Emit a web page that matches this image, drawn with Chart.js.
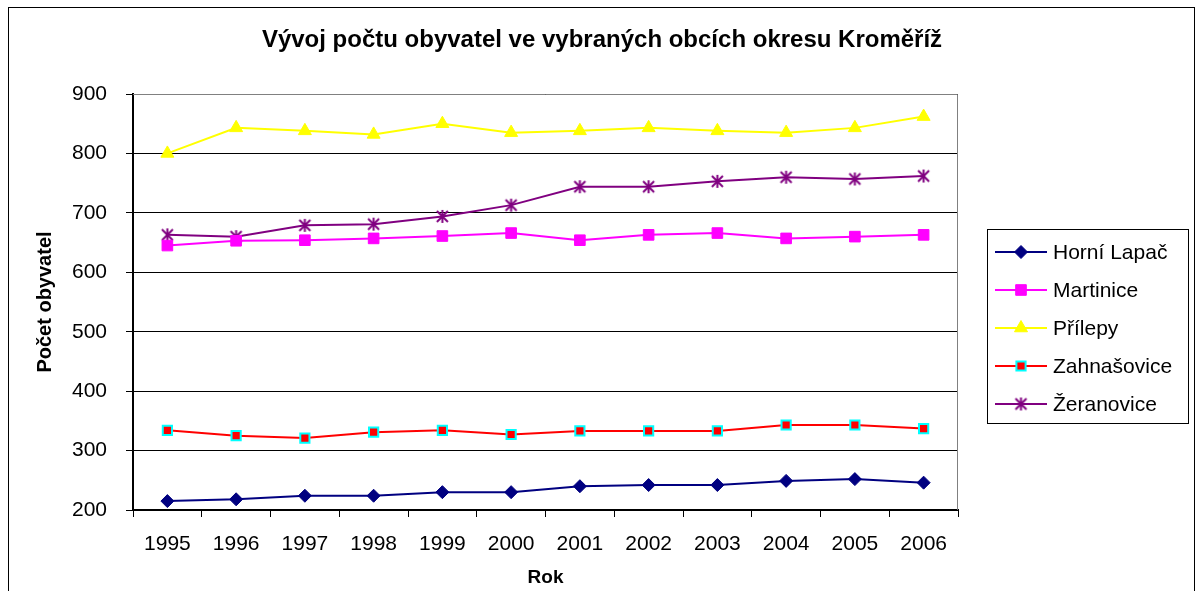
<!DOCTYPE html>
<html>
<head>
<meta charset="utf-8">
<script src="https://cdn.jsdelivr.net/npm/chart.js@4.4.0/dist/chart.umd.min.js"></script>
<style>
  body { margin: 0; background: #fff; }
  #wrap { width: 1197px; height: 591px; }
</style>
</head>
<body>
<div id="wrap"><canvas id="myChart" width="1197" height="591"></canvas></div>
<script>
'use strict';
const chartTitle = 'Vývoj počtu obyvatel ve vybraných obcích okresu Kroměříž';
const years = ['1995', '1996', '1997', '1998', '1999', '2000', '2001', '2002', '2003', '2004', '2005', '2006'];
const horniLapac = [215, 218, 224, 224, 230, 230, 240, 242, 242, 249, 252, 246];
const martinice = [645, 653, 654, 657, 661, 666, 654, 663, 666, 657, 660, 663];
const prilepy = [800, 843, 838, 832, 850, 835, 838, 843, 838, 835, 843, 862];
const zahnasovice = [334, 325, 321, 331, 334, 327, 333, 333, 333, 343, 343, 337];
const zeranovice = [663, 660, 679, 681, 694, 713, 744, 744, 753, 760, 757, 762];
const yMin = 200;
const yMax = 900;
const yStep = 100;

const FONT = '"Liberation Sans", Arial, sans-serif';

// Excel style star marker: an X with a vertical bar
function makeStar(color) {
  let c = document.createElement('canvas');
  c.width = 15;
  c.height = 15;
  let g = c.getContext('2d');
  g.strokeStyle = color;
  g.lineWidth = 2;
  g.beginPath();
  g.moveTo(2, 2); g.lineTo(13, 13);
  g.moveTo(13, 2); g.lineTo(2, 13);
  g.moveTo(7.5, 1); g.lineTo(7.5, 14);
  g.stroke();
  return c;
}
const starImg = makeStar('#800080');

const frame = {
  id: 'frame',
  beforeDraw(chart) {
    let g = chart.ctx;
    g.save();
    g.fillStyle = '#fff';
    g.fillRect(0, 0, chart.width, chart.height);
    g.strokeStyle = '#000';
    g.lineWidth = 1;
    g.strokeRect(8.5, 7.5, 1186, 620);
    // title centred on the whole chart
    g.font = 'bold 24px ' + FONT;
    g.textAlign = 'center';
    g.textBaseline = 'middle';
    g.fillStyle = '#000';
    g.fillText(chartTitle, 602, 40);
    g.restore();
  },
  beforeDatasetsDraw(chart) {
    let a = chart.chartArea;
    let g = chart.ctx;
    g.save();
    g.strokeStyle = '#808080';
    g.lineWidth = 1;
    g.beginPath();
    g.moveTo(a.left, a.top + 0.5);
    g.lineTo(a.right - 0.5, a.top + 0.5);
    g.lineTo(a.right - 0.5, a.bottom);
    g.stroke();
    g.restore();
  }
};

const boxLegend = {
  id: 'boxLegend',
  afterDraw(chart) {
    let g = chart.ctx;
    let a = chart.chartArea;
    let x0 = a.right + 29;
    let y0 = 229;
    let w = 201;
    let h = 194;
    g.save();
    g.strokeStyle = '#000';
    g.lineWidth = 1;
    g.strokeRect(x0 + 0.5, y0 + 0.5, w, h);
    g.font = '21px ' + FONT;
    g.textBaseline = 'middle';
    g.fillStyle = '#000';
    chart.data.datasets.forEach((ds, i) => {
      let y = y0 + 23 + i * 38;
      g.strokeStyle = ds.borderColor;
      g.lineWidth = 2;
      g.beginPath();
      g.moveTo(x0 + 8, y);
      g.lineTo(x0 + 60, y);
      g.stroke();
      g.fillStyle = ds.pointBackgroundColor;
      g.strokeStyle = ds.pointBorderColor;
      g.lineWidth = ds.pointBorderWidth;
      Chart.helpers.drawPoint(g, {
        pointStyle: ds.pointStyle,
        radius: ds.pointRadius,
        borderWidth: ds.pointBorderWidth,
        rotation: 0
      }, x0 + 34, y);
      g.fillStyle = '#000';
      g.fillText(ds.label, x0 + 66, y + 1);
    });
    g.restore();
  }
};

function series(label, data, color, style, radius, fill, border, bw) {
  return {
    label: label,
    data: data,
    borderColor: color,
    borderWidth: 2,
    pointStyle: style,
    pointRadius: radius,
    pointHoverRadius: radius,
    pointBackgroundColor: fill,
    pointBorderColor: border,
    pointBorderWidth: bw,
    tension: 0
  };
}

const ctx = document.getElementById('myChart');
new Chart(ctx, {
  type: 'line',
  data: {
    labels: years,
    datasets: [
      series('Horní Lapač', horniLapac, '#000080', 'rectRot', 6.5, '#000080', '#000080', 1),
      series('Martinice', martinice, '#FF00FF', 'rect', 7.5, '#FF00FF', '#FF00FF', 1),
      series('Přílepy', prilepy, '#FFFF00', 'triangle', 7.5, '#FFFF00', '#FFFF00', 1),
      series('Zahnašovice', zahnasovice, '#FF0000', 'rect', 6.5, '#FF0000', '#00FFFF', 2),
      series('Žeranovice', zeranovice, '#800080', starImg, 7, '#800080', '#800080', 1)
    ]
  },
  options: {
    responsive: false,
    animation: false,
    events: [],
    layout: { padding: { left: 29, right: 239, top: 94, bottom: 0 } },
    plugins: {
      legend: { display: false },
      tooltip: { enabled: false },
      title: { display: false }
    },
    scales: {
      x: {
        type: 'category',
        offset: true,
        grid: { offset: true, drawOnChartArea: false, color: '#000', tickLength: 7, lineWidth: 1 },
        border: { color: '#000', width: 2 },
        ticks: { color: '#000', font: { family: FONT, size: 21 }, padding: 15, maxRotation: 0 },
        title: {
          display: true,
          text: 'Rok',
          color: '#000',
          font: { family: FONT, size: 19, weight: 'bold' },
          padding: { top: 4, bottom: 2 }
        },
        afterFit(scale) { scale.height = 81; }
      },
      y: {
        min: yMin,
        max: yMax,
        ticks: { stepSize: yStep, color: '#000', font: { family: FONT, size: 21 }, padding: 19 },
        grid: { color: '#000', tickLength: 7, lineWidth: 1 },
        border: { color: '#000', width: 2 },
        title: {
          display: true,
          text: 'Počet obyvatel',
          color: '#000',
          font: { family: FONT, size: 20, weight: 'bold' },
          padding: { top: 4, bottom: 4 }
        },
        afterFit(scale) { scale.width = 104; }
      }
    }
  },
  plugins: [frame, boxLegend]
});
</script>
</body>
</html>
